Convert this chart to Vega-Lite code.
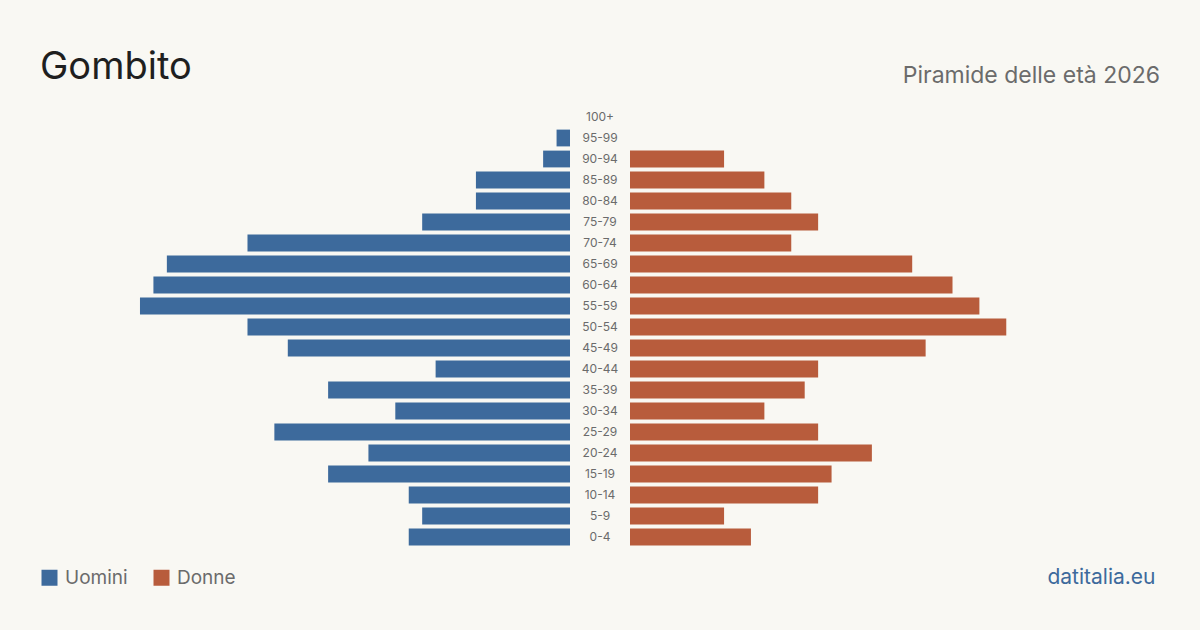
{
  "$schema": "https://vega.github.io/schema/vega-lite/v6.json",
  "background": "#f9f8f3",
  "padding": {"left": 40, "right": 40, "top": 48.5, "bottom": 45},
  "bounds": "flush",
  "spacing": 0,
  "config": {
    "view": {"stroke": null},
    "font": "Inter",
    "legend": {
      "padding": 0,
      "symbolType": "square",
      "symbolSize": 256,
      "symbolStrokeWidth": 0,
      "symbolOpacity": 1,
      "labelFontSize": 19,
      "labelColor": "#6b6b6b",
      "labelFont": "Inter",
      "labelOffset": 6,
      "columnPadding": 24
    }
  },
  "data": {
    "values": [
      {"age": "100+", "sex": "Uomini", "value": 0}, {"age": "100+", "sex": "Donne", "value": 0},
      {"age": "95-99", "sex": "Uomini", "value": 1}, {"age": "95-99", "sex": "Donne", "value": 0},
      {"age": "90-94", "sex": "Uomini", "value": 2}, {"age": "90-94", "sex": "Donne", "value": 7},
      {"age": "85-89", "sex": "Uomini", "value": 7}, {"age": "85-89", "sex": "Donne", "value": 10},
      {"age": "80-84", "sex": "Uomini", "value": 7}, {"age": "80-84", "sex": "Donne", "value": 12},
      {"age": "75-79", "sex": "Uomini", "value": 11}, {"age": "75-79", "sex": "Donne", "value": 14},
      {"age": "70-74", "sex": "Uomini", "value": 24}, {"age": "70-74", "sex": "Donne", "value": 12},
      {"age": "65-69", "sex": "Uomini", "value": 30}, {"age": "65-69", "sex": "Donne", "value": 21},
      {"age": "60-64", "sex": "Uomini", "value": 31}, {"age": "60-64", "sex": "Donne", "value": 24},
      {"age": "55-59", "sex": "Uomini", "value": 32}, {"age": "55-59", "sex": "Donne", "value": 26},
      {"age": "50-54", "sex": "Uomini", "value": 24}, {"age": "50-54", "sex": "Donne", "value": 28},
      {"age": "45-49", "sex": "Uomini", "value": 21}, {"age": "45-49", "sex": "Donne", "value": 22},
      {"age": "40-44", "sex": "Uomini", "value": 10}, {"age": "40-44", "sex": "Donne", "value": 14},
      {"age": "35-39", "sex": "Uomini", "value": 18}, {"age": "35-39", "sex": "Donne", "value": 13},
      {"age": "30-34", "sex": "Uomini", "value": 13}, {"age": "30-34", "sex": "Donne", "value": 10},
      {"age": "25-29", "sex": "Uomini", "value": 22}, {"age": "25-29", "sex": "Donne", "value": 14},
      {"age": "20-24", "sex": "Uomini", "value": 15}, {"age": "20-24", "sex": "Donne", "value": 18},
      {"age": "15-19", "sex": "Uomini", "value": 18}, {"age": "15-19", "sex": "Donne", "value": 15},
      {"age": "10-14", "sex": "Uomini", "value": 12}, {"age": "10-14", "sex": "Donne", "value": 14},
      {"age": "5-9", "sex": "Uomini", "value": 11}, {"age": "5-9", "sex": "Donne", "value": 7},
      {"age": "0-4", "sex": "Uomini", "value": 12}, {"age": "0-4", "sex": "Donne", "value": 9}
    ]
  },
  "resolve": {"scale": {"color": "shared"}, "legend": {"color": "shared"}},
  "hconcat": [
    {
      "width": 530,
      "height": 441,
      "title": {"text": "Gombito", "anchor": "start", "fontSize": 38, "fontWeight": 400, "color": "#1f1f1f", "font": "Inter", "baseline": "alphabetic", "offset": -10.2},
      "transform": [{"filter": {"field": "sex", "equal": "Uomini"}}],
      "mark": {"type": "bar"},
      "encoding": {
        "y": {"field": "age", "type": "nominal", "scale": {"domain": ["100+", "95-99", "90-94", "85-89", "80-84", "75-79", "70-74", "65-69", "60-64", "55-59", "50-54", "45-49", "40-44", "35-39", "30-34", "25-29", "20-24", "15-19", "10-14", "5-9", "0-4"], "paddingInner": 0.2, "paddingOuter": 0.1}, "axis": null},
        "x": {"field": "value", "type": "quantitative", "scale": {"domain": [0, 39.44], "reverse": true, "nice": false}, "axis": null},
        "color": {"field": "sex", "type": "nominal", "scale": {"domain": ["Uomini", "Donne"], "range": ["#3d6a9c", "#b85c3c"]}, "legend": {"title": null, "orient": "none", "legendX": 0, "legendY": 461.5, "direction": "horizontal"}}
      }
    },
    {
      "width": 60,
      "height": 441,
      "transform": [{"filter": {"field": "sex", "equal": "Uomini"}}],
      "mark": {"type": "text", "fontSize": 12, "color": "#6b6b6b", "baseline": "middle", "align": "center", "font": "Inter"},
      "encoding": {
        "y": {"field": "age", "type": "nominal", "scale": {"domain": ["100+", "95-99", "90-94", "85-89", "80-84", "75-79", "70-74", "65-69", "60-64", "55-59", "50-54", "45-49", "40-44", "35-39", "30-34", "25-29", "20-24", "15-19", "10-14", "5-9", "0-4"], "paddingInner": 0.2, "paddingOuter": 0.1}, "axis": null},
        "text": {"field": "age", "type": "nominal"}
      }
    },
    {
      "width": 530,
      "height": 441,
      "title": {"text": "Piramide delle età 2026", "anchor": "end", "fontSize": 23, "fontWeight": 400, "color": "#6b6b6b", "font": "Inter", "baseline": "alphabetic", "offset": 0.5},
      "transform": [{"filter": {"field": "sex", "equal": "Donne"}}],
      "mark": {"type": "bar"},
      "encoding": {
        "y": {"field": "age", "type": "nominal", "scale": {"domain": ["100+", "95-99", "90-94", "85-89", "80-84", "75-79", "70-74", "65-69", "60-64", "55-59", "50-54", "45-49", "40-44", "35-39", "30-34", "25-29", "20-24", "15-19", "10-14", "5-9", "0-4"], "paddingInner": 0.2, "paddingOuter": 0.1}, "axis": null},
        "x": {"field": "value", "type": "quantitative", "scale": {"domain": [0, 39.44], "nice": false}, "axis": {"orient": "bottom", "labels": false, "ticks": false, "domain": false, "grid": false, "title": "datitalia.eu", "titleAnchor": "end", "titleAlign": "right", "titleFontSize": 21, "titleFontWeight": 400, "titleColor": "#3d6a9c", "titleFont": "Inter", "titleBaseline": "alphabetic", "titleX": 525, "titleY": 36}},
        "color": {"field": "sex", "type": "nominal", "scale": {"domain": ["Uomini", "Donne"], "range": ["#3d6a9c", "#b85c3c"]}, "legend": {"title": null, "orient": "none", "legendX": 0, "legendY": 461.5, "direction": "horizontal"}}
      }
    }
  ]
}
